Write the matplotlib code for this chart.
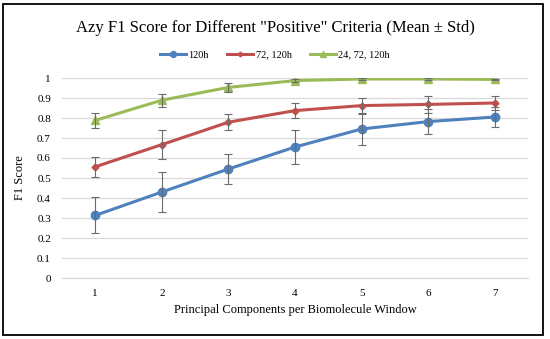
import numpy as np
import matplotlib.pyplot as plt
from matplotlib.patches import Rectangle

plt.rcParams['font.family'] = ['Liberation Serif', 'DejaVu Serif']

# donnees
components = [1, 2, 3, 4, 5, 6, 7]
labels = ["120h", "72, 120h", "24, 72, 120h"]

mean_120 = [0.313, 0.430, 0.545, 0.655, 0.745, 0.782, 0.805]
std_120 = [0.090, 0.102, 0.074, 0.084, 0.080, 0.064, 0.050]

mean_72_120 = [0.556, 0.667, 0.779, 0.837, 0.862, 0.868, 0.875]
std_72_120 = [0.051, 0.072, 0.041, 0.036, 0.040, 0.043, 0.037]

mean_24_72_120 = [0.788, 0.889, 0.953, 0.987, 0.995, 0.995, 0.993]
std_24_72_120 = [0.036, 0.032, 0.022, 0.008, 0.004, 0.004, 0.004]

yticks = np.arange(0, 1.01, 0.1)
ytick_labels = ["0", "0.1", "0.2", "0.3", "0.4", "0.5", "0.6", "0.7", "0.8", "0.9", "1"]

colors = ["#4F81BD", "#C0504D", "#9BBB59"]
markers = ["o", "D", "^"]
msizes = [6, 3.5, 5.5]

fig = plt.figure(figsize=(5.5, 3.39), dpi=100)
ax = fig.add_axes([62/550, 61/339, 466/550, 200/339])

series = [(mean_120, std_120), (mean_72_120, std_72_120), (mean_24_72_120, std_24_72_120)]
for (m, s), lab, c, mk, ms in zip(series, labels, colors, markers, msizes):
    ax.errorbar(components, m, yerr=s, fmt="none", ecolor="#6b6b6b",
                elinewidth=0.8, capsize=3, capthick=0.8, zorder=3)
    ax.plot(components, m, color=c, lw=2.2, marker=mk, ms=ms,
            label=lab, zorder=2)

ax.set_xlim(0.5, 7.5)
ax.set_ylim(0, 1)
ax.set_xticks(components)
ax.set_yticks(yticks)
ax.set_yticklabels(ytick_labels)
ax.tick_params(length=0, labelsize=8, pad=8)
ax.grid(axis="y", color="#d9d9d9", lw=0.9)
ax.set_axisbelow(True)
for sp in ["top", "right", "left"]:
    ax.spines[sp].set_visible(False)
ax.spines["bottom"].set_color("#d9d9d9")
ax.spines["bottom"].set_linewidth(0.9)

ax.set_xlabel("Principal Components per Biomolecule Window", fontsize=9, labelpad=4)
ax.set_ylabel("F1 Score", fontsize=9, labelpad=8)

fig.text(0.5, 1 - 28/339, 'Azy F1 Score for Different "Positive" Criteria (Mean ± Std)',
         ha="center", va="center", fontsize=12)

fig.legend(loc="center", bbox_to_anchor=(0.5, 1 - 55/339), ncol=3, frameon=False,
           fontsize=7.5, handlelength=2.5, columnspacing=1.8, handletextpad=0.2,
           markerscale=0.7)

# cadre autour de la figure
fig.patches.append(Rectangle((3/550, 4/339), 540/550, 331/339, transform=fig.transFigure,
                             fill=False, edgecolor="black", lw=1.3))

fig.savefig("out.png", dpi=100)
